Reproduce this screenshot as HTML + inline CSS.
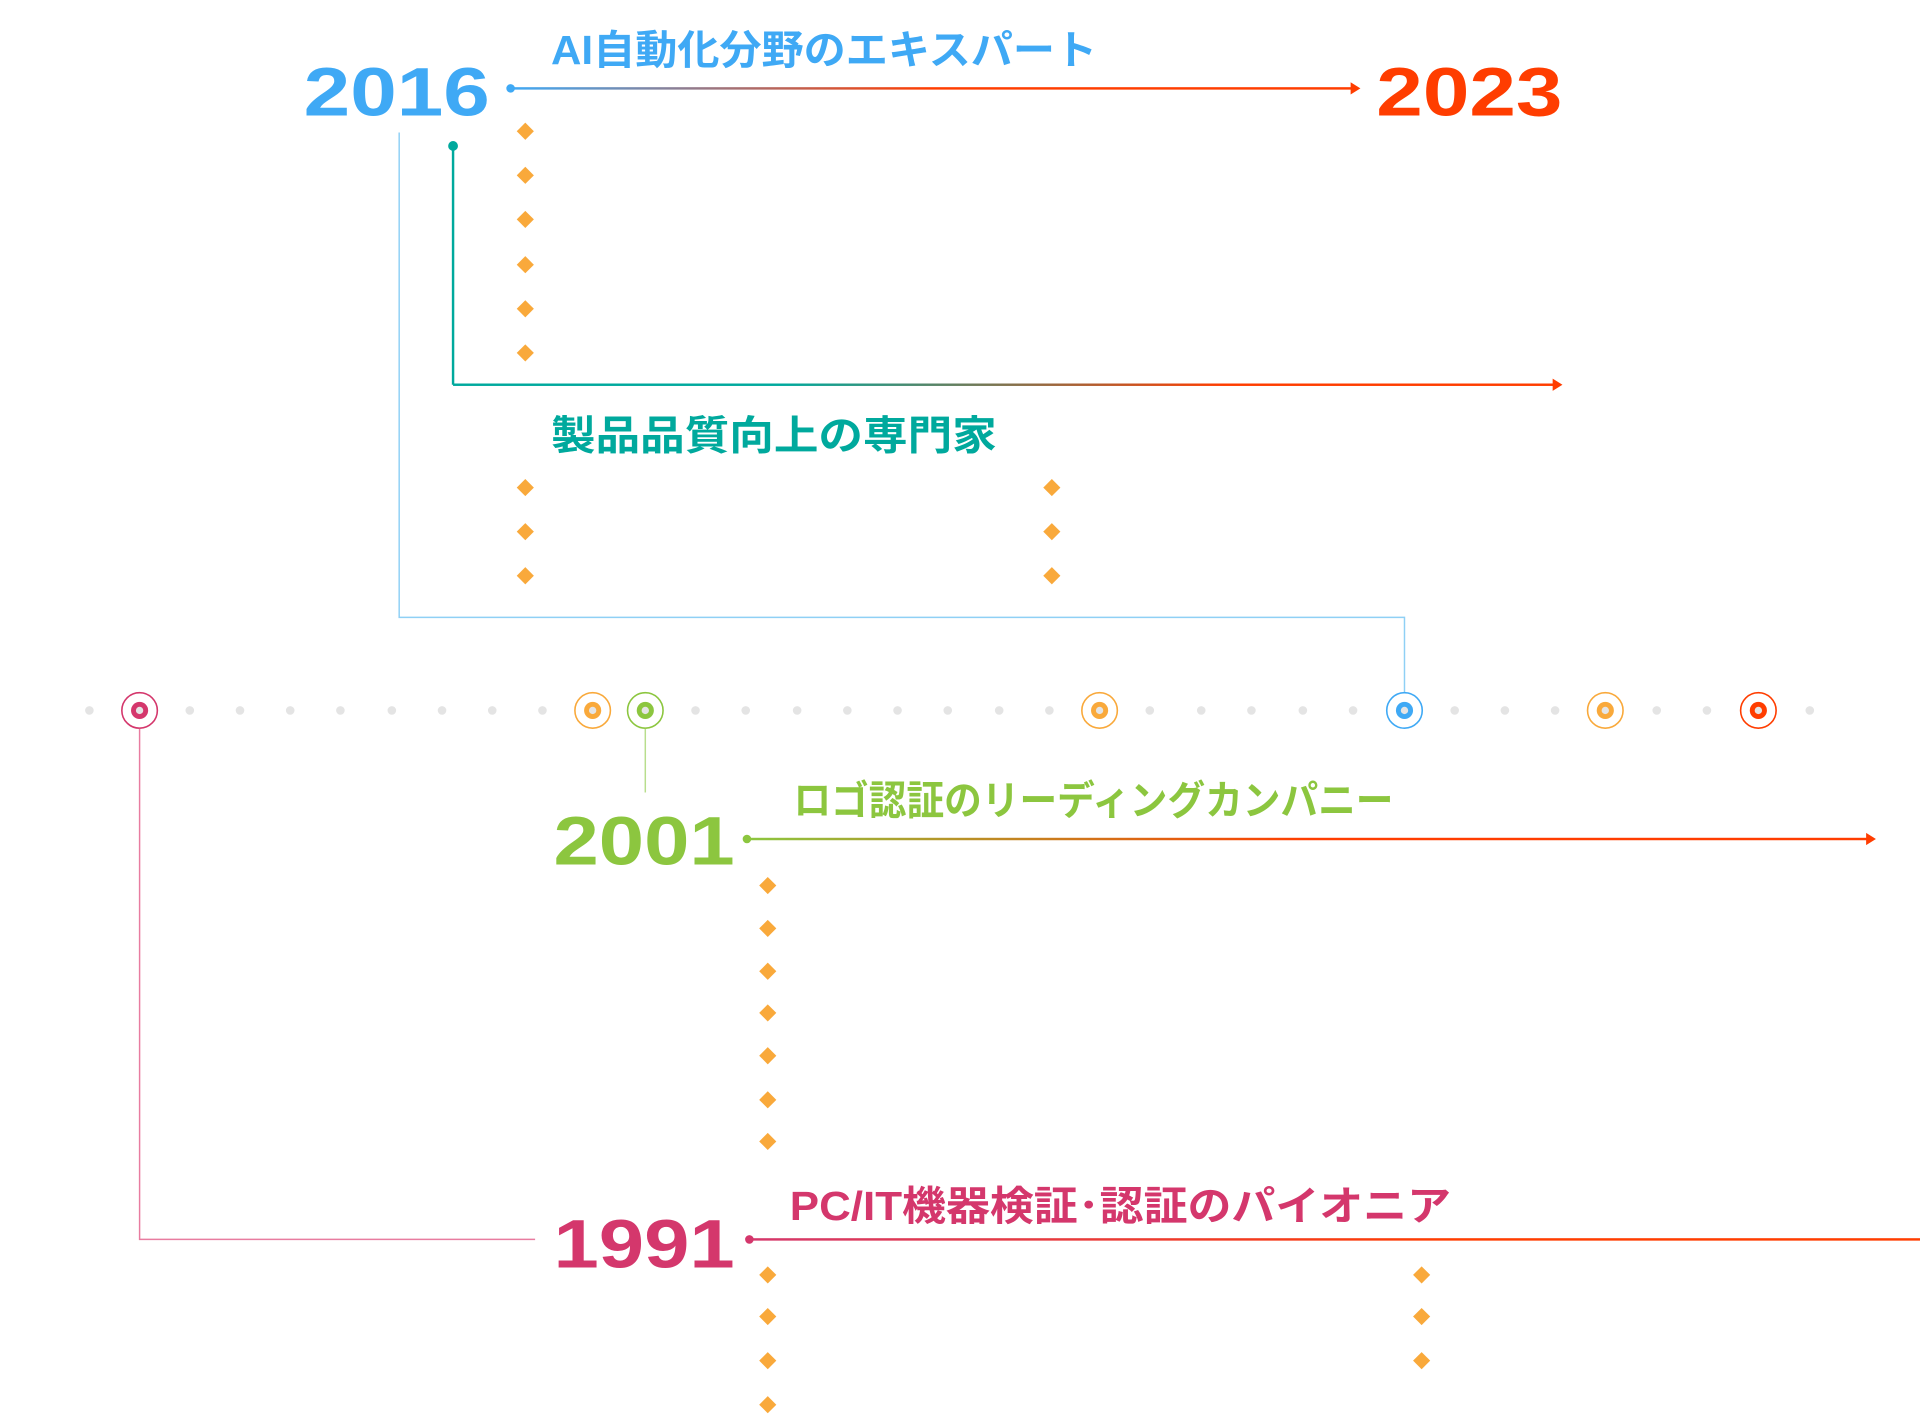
<!DOCTYPE html>
<html><head><meta charset="utf-8"><style>html,body{margin:0;padding:0;background:#fff}svg{display:block}</style></head><body>
<svg width="1920" height="1427" viewBox="0 0 1568 1165" xmlns="http://www.w3.org/2000/svg" font-family="'Liberation Sans','Noto Sans CJK JP',sans-serif" font-weight="bold">
<defs>
<linearGradient id="g1" x1="0" x2="1"><stop offset="0" stop-color="#3fa9f5"/><stop offset="0.5" stop-color="#ff3d00"/><stop offset="1" stop-color="#ff3d00"/></linearGradient>
<linearGradient id="g2" x1="0" x2="1"><stop offset="0" stop-color="#00a99d"/><stop offset="0.3" stop-color="#00a99d"/><stop offset="0.7" stop-color="#ff3d00"/><stop offset="1" stop-color="#ff3d00"/></linearGradient>
<linearGradient id="g3" x1="0" x2="1"><stop offset="0" stop-color="#8cc63f"/><stop offset="0.5" stop-color="#ff3d00"/><stop offset="1" stop-color="#ff3d00"/></linearGradient>
<linearGradient id="g4" x1="0" x2="1"><stop offset="0" stop-color="#d4376c"/><stop offset="0.6" stop-color="#ff3d00"/><stop offset="1" stop-color="#ff3d00"/></linearGradient>
<path id="d" d="M0,-7 L7,0 L0,7 L-7,0 Z" fill="#f9a93b"/>
</defs>
<text x="248" y="94" font-size="56" fill="#3fa9f5" textLength="152" lengthAdjust="spacingAndGlyphs">2016</text>
<text x="1124" y="94" font-size="56" fill="#ff3d00" textLength="152" lengthAdjust="spacingAndGlyphs">2023</text>
<text x="450" y="52" font-size="33" fill="#3fa9f5" textLength="446" lengthAdjust="spacingAndGlyphs">AI自動化分野のエキスパート</text>
<circle cx="417" cy="72" r="3.5" fill="#3fa9f5"/>
<rect x="417" y="71" width="688" height="2" fill="url(#g1)"/>
<path d="M1103,67 L1111,72 L1103,77 Z" fill="#ff3d00"/>
<use href="#d" x="429" y="107"/><use href="#d" x="429" y="143"/><use href="#d" x="429" y="179"/><use href="#d" x="429" y="216"/><use href="#d" x="429" y="252"/><use href="#d" x="429" y="288"/>
<circle cx="370" cy="119" r="4" fill="#00a99d"/>
<line x1="370" y1="119" x2="370" y2="314" stroke="#00a99d" stroke-width="2"/>
<rect x="370" y="313" width="900" height="2" fill="url(#g2)"/>
<path d="M1268,309 L1276,314 L1268,319 Z" fill="#ff3d00"/>
<text x="450" y="367" font-size="33" fill="#00a99d" textLength="364" lengthAdjust="spacingAndGlyphs">製品品質向上の専門家</text>
<use href="#d" x="429" y="398"/><use href="#d" x="429" y="434"/><use href="#d" x="429" y="470"/>
<use href="#d" x="859" y="398"/><use href="#d" x="859" y="434"/><use href="#d" x="859" y="470"/>
<polyline points="326,108 326,504 1147,504 1147,568" fill="none" stroke="#8fd0f5" stroke-width="1.2"/>
<g fill="#e4e4e4">
<circle cx="73" cy="580" r="3.5"/><circle cx="155" cy="580" r="3.5"/><circle cx="196" cy="580" r="3.5"/><circle cx="237" cy="580" r="3.5"/><circle cx="278" cy="580" r="3.5"/><circle cx="320" cy="580" r="3.5"/><circle cx="361" cy="580" r="3.5"/><circle cx="402" cy="580" r="3.5"/><circle cx="443" cy="580" r="3.5"/><circle cx="568" cy="580" r="3.5"/><circle cx="609" cy="580" r="3.5"/><circle cx="651" cy="580" r="3.5"/><circle cx="692" cy="580" r="3.5"/><circle cx="733" cy="580" r="3.5"/><circle cx="774" cy="580" r="3.5"/><circle cx="816" cy="580" r="3.5"/><circle cx="857" cy="580" r="3.5"/><circle cx="939" cy="580" r="3.5"/><circle cx="981" cy="580" r="3.5"/><circle cx="1022" cy="580" r="3.5"/><circle cx="1064" cy="580" r="3.5"/><circle cx="1105" cy="580" r="3.5"/><circle cx="1188" cy="580" r="3.5"/><circle cx="1229" cy="580" r="3.5"/><circle cx="1270" cy="580" r="3.5"/><circle cx="1353" cy="580" r="3.5"/><circle cx="1394" cy="580" r="3.5"/><circle cx="1478" cy="580" r="3.5"/>
</g>
<g stroke-width="1.3">
<circle cx="114" cy="580" r="14.5" fill="#fff" stroke="#d4376c"/><circle cx="114" cy="580" r="7" fill="#d4376c"/>
<circle cx="484" cy="580" r="14.5" fill="#fff" stroke="#f9a93b"/><circle cx="484" cy="580" r="7" fill="#f9a93b"/>
<circle cx="527" cy="580" r="14.5" fill="#fff" stroke="#8cc63f"/><circle cx="527" cy="580" r="7" fill="#8cc63f"/>
<circle cx="898" cy="580" r="14.5" fill="#fff" stroke="#f9a93b"/><circle cx="898" cy="580" r="7" fill="#f9a93b"/>
<circle cx="1147" cy="580" r="14.5" fill="#fff" stroke="#3fa9f5"/><circle cx="1147" cy="580" r="7" fill="#3fa9f5"/>
<circle cx="1311" cy="580" r="14.5" fill="#fff" stroke="#f9a93b"/><circle cx="1311" cy="580" r="7" fill="#f9a93b"/>
<circle cx="1436" cy="580" r="14.5" fill="#fff" stroke="#ff3d00"/><circle cx="1436" cy="580" r="7" fill="#ff3d00"/>
</g>
<g fill="#e4e4e4"><circle cx="114" cy="580" r="3"/><circle cx="484" cy="580" r="3"/><circle cx="527" cy="580" r="3"/><circle cx="898" cy="580" r="3"/><circle cx="1147" cy="580" r="3"/><circle cx="1311" cy="580" r="3"/><circle cx="1436" cy="580" r="3"/></g>
<line x1="527" y1="595" x2="527" y2="647" stroke="#b8de8c" stroke-width="1.2"/>
<text x="452" y="706" font-size="56" fill="#8cc63f" textLength="148" lengthAdjust="spacingAndGlyphs">2001</text>
<text x="648" y="665" font-size="33" fill="#8cc63f" textLength="490" lengthAdjust="spacingAndGlyphs">ロゴ認証のリーディングカンパニー</text>
<circle cx="610" cy="685" r="3.5" fill="#8cc63f"/>
<rect x="610" y="684" width="916" height="2" fill="url(#g3)"/>
<path d="M1524,680 L1532,685 L1524,690 Z" fill="#ff3d00"/>
<use href="#d" x="627" y="723"/><use href="#d" x="627" y="758"/><use href="#d" x="627" y="793"/><use href="#d" x="627" y="827"/><use href="#d" x="627" y="862"/><use href="#d" x="627" y="898"/><use href="#d" x="627" y="932"/>
<polyline points="114,595 114,1012 437,1012" fill="none" stroke="#e87ca0" stroke-width="1.2"/>
<text x="452" y="1035" font-size="56" fill="#d4376c" textLength="148" lengthAdjust="spacingAndGlyphs">1991</text>
<text x="645" y="996" font-size="33" fill="#d4376c" textLength="540" lengthAdjust="spacingAndGlyphs">PC/IT機器検証･認証のパイオニア</text>
<circle cx="612" cy="1012" r="3.5" fill="#d4376c"/>
<rect x="612" y="1011" width="956" height="2" fill="url(#g4)"/>
<use href="#d" x="627" y="1041"/><use href="#d" x="627" y="1075"/><use href="#d" x="627" y="1111"/><use href="#d" x="627" y="1147"/>
<use href="#d" x="1161" y="1041"/><use href="#d" x="1161" y="1075"/><use href="#d" x="1161" y="1111"/>
</svg>
</body></html>
